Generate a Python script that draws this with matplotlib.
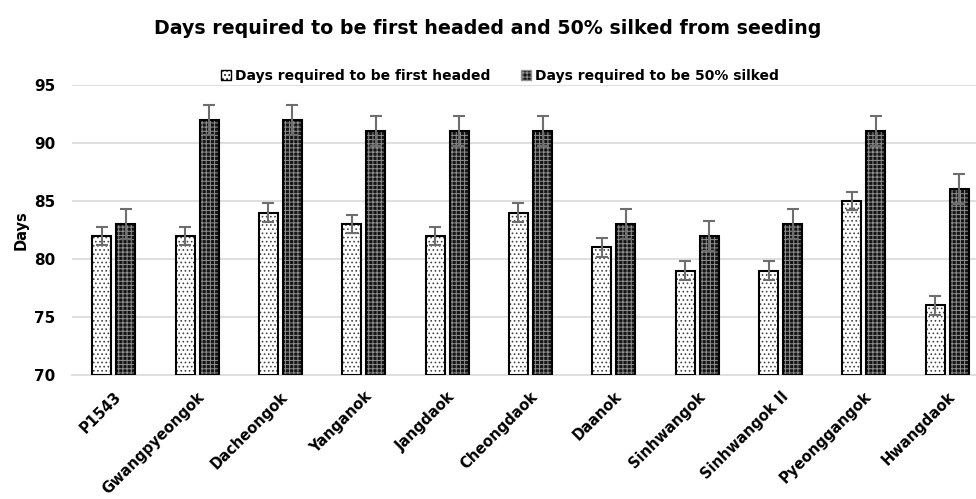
import matplotlib
matplotlib.use("Agg")
import matplotlib.pyplot as plt
import numpy as np
from matplotlib.patches import Patch

categories = ["P1543", "Gwangpyeongok", "Dacheongok", "Yanganok", "Jangdaok",
              "Cheongdaok", "Daanok", "Sinhwangok", "Sinhwangok II", "Pyeonggangok", "Hwangdaok"]
headed = [82, 82, 84, 83, 82, 84, 81, 79, 79, 85, 76]
silked = [83, 92, 92, 91, 91, 91, 83, 82, 83, 91, 86]
headed_err = [0.8] * 11
silked_err = [1.3] * 11
yticks = [70, 75, 80, 85, 90, 95]

plt.rcParams['font.family'] = ['DejaVu Sans']
plt.rcParams['hatch.linewidth'] = 0.7

fig = plt.figure(figsize=(9.76, 4.99), dpi=100)
ax = fig.add_axes([72/976, 1-375/499, (989-72)/976, (375-85)/499])

x = np.arange(len(categories))
w = 0.228
off = 0.144

for yv in yticks[1:]:
    ax.axhline(yv, color='#d9d9d9', lw=1.2, zorder=0)

ax.bar(x - off, [h - 70 for h in headed], w, bottom=70, color='white', edgecolor='#444444',
       hatch='....', linewidth=0, zorder=2)
ax.bar(x - off, [h - 70 for h in headed], w, bottom=70, fill=False, edgecolor='black',
       linewidth=1.5, zorder=3)
ax.bar(x + off, [s - 70 for s in silked], w, bottom=70, color='#151515', edgecolor='#909090',
       hatch='++++', linewidth=0, zorder=2)
ax.bar(x + off, [s - 70 for s in silked], w, bottom=70, fill=False, edgecolor='black',
       linewidth=1.5, zorder=3)

ax.errorbar(x - off, headed, yerr=headed_err, fmt='none', ecolor='#6e6e6e', elinewidth=1.5,
            capsize=4, capthick=1.5, zorder=4)
ax.errorbar(x + off, silked, yerr=silked_err, fmt='none', ecolor='#6e6e6e', elinewidth=1.5,
            capsize=4, capthick=1.5, zorder=4)

ax.set_xlim(-0.5, len(categories) - 0.5)
ax.set_ylim(70, 95)
ax.set_yticks(yticks)
ax.set_yticklabels([str(t) for t in yticks], fontsize=11, fontweight='bold')
ax.set_xticks(x)
ax.set_xticklabels(categories, rotation=45, ha='right', rotation_mode='anchor',
                   fontsize=10.5, fontweight='bold')
ax.tick_params(axis='x', length=0, pad=10)
ax.tick_params(axis='y', length=0, pad=12)
for s in ['top', 'right', 'left']:
    ax.spines[s].set_visible(False)
ax.spines['bottom'].set_color('#d9d9d9')
ax.spines['bottom'].set_linewidth(1.2)
ax.set_ylabel("Days", fontsize=10.5, fontweight='bold', labelpad=4)

h1 = Patch(facecolor='white', edgecolor='black', hatch='....', linewidth=1)
h2 = Patch(facecolor='#151515', edgecolor='#909090', hatch='++++', linewidth=1)
fig.legend([h1, h2], ["Days required to be first headed", "Days required to be 50% silked"],
           loc='center', bbox_to_anchor=(500/976, 1-76/499), ncol=2, frameon=False,
           prop={'size': 10, 'weight': 'bold'}, handlelength=0.7, handleheight=0.7,
           handletextpad=0.3, columnspacing=2.2, borderpad=0)

fig.text(0.5, 1-28/499, "Days required to be first headed and 50% silked from seeding",
         ha='center', va='center', fontsize=13.7, fontweight='bold')

fig.savefig("out.png", dpi=100)
